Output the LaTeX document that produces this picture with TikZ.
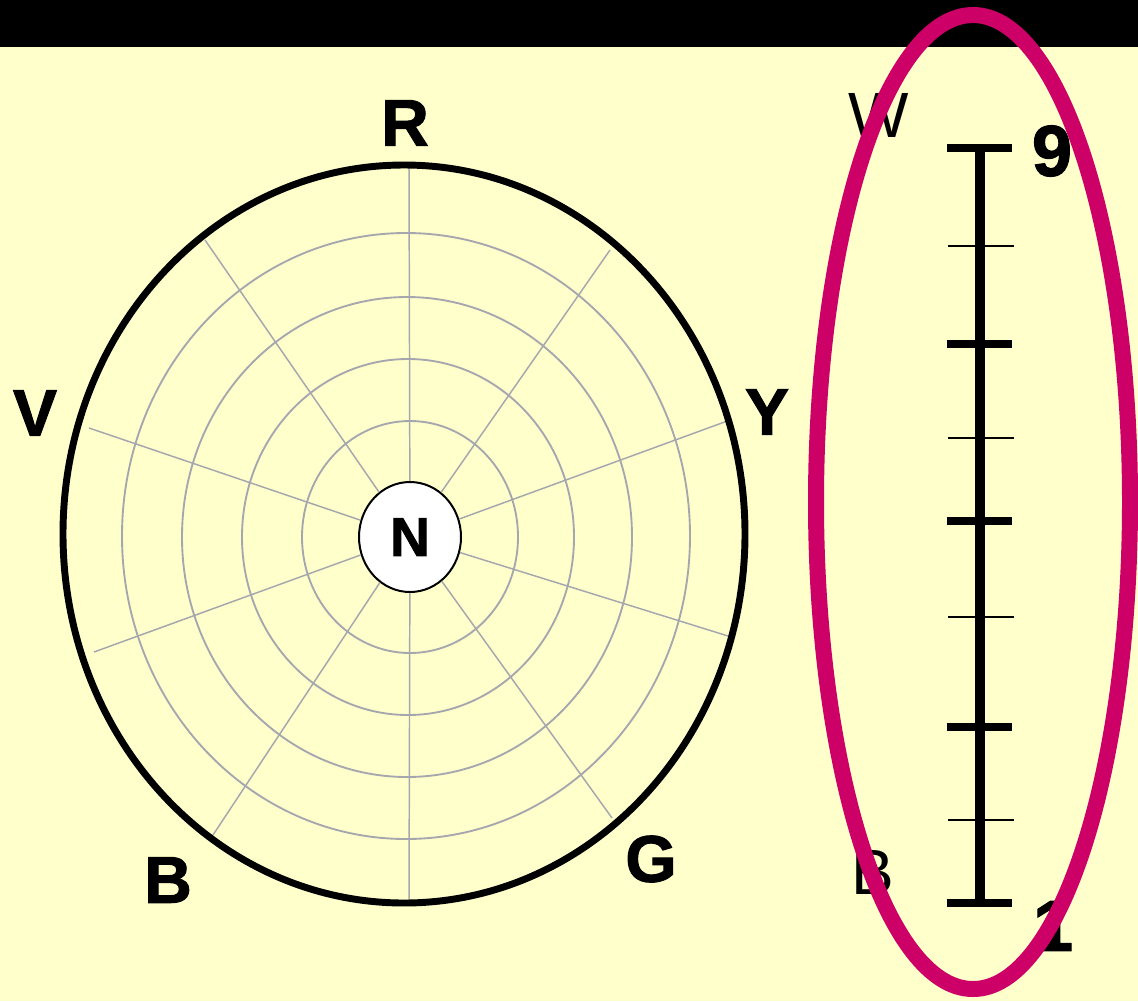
\documentclass[tikz,border=0pt]{standalone}
\usepackage{fontspec}
\setmainfont{Liberation Sans}
\newfontfamily\heavyfont{Liberation Sans}[BoldFeatures={FakeBold=1.6}]
\usetikzlibrary{shapes.geometric}
\definecolor{bgyellow}{HTML}{FFFFCC}
\definecolor{ringgrey}{HTML}{A6A6AE}
\definecolor{magentaring}{HTML}{CC0066}
\tikzset{
  ring/.style={draw=ringgrey, line width=1.4pt},
  spoke/.style={draw=ringgrey, line width=1.1pt},
  hue/.style={font=\heavyfont\fontsize{49.5}{50}\selectfont\bfseries, inner sep=0pt, text=black},
  endlabel/.style={font=\fontsize{48}{50}\selectfont, inner sep=0pt, text=black},
  numlabel/.style={font=\heavyfont\fontsize{54}{56}\selectfont\bfseries, inner sep=0pt, text=black},
  major/.style={line width=6.5pt, draw=black},
  minor/.style={line width=1.3pt, draw=black},
}
\begin{document}
\begin{tikzpicture}[x=0.75pt, y=-0.75pt]
\useasboundingbox (0,0) rectangle (1138,1001);
% background and top bar
\fill[bgyellow] (0,0) rectangle (1138,1001);
\fill[black] (0,0) rectangle (1138,47);
% concentric rings
\draw[ring] (410,537) ellipse [x radius=108, y radius=116];
\draw[ring] (408,537) ellipse [x radius=166, y radius=178];
\draw[ring] (407,537) ellipse [x radius=225, y radius=240];
\draw[ring] (406,536) ellipse [x radius=284, y radius=303];
% centre node
\node[ellipse, draw=black, line width=1.5pt, fill=white, minimum width=76.5pt, minimum height=82.5pt, inner sep=0pt,
      font=\heavyfont\fontsize{41}{42}\selectfont\bfseries] (N) at (410,537) {N};
% spoke ends
\coordinate (s1) at (409,166);
\coordinate (s2) at (610,250);
\coordinate (s3) at (730,420);
\coordinate (s4) at (728,636);
\coordinate (s5) at (612,818);
\coordinate (s6) at (409,902);
\coordinate (s7) at (213,835);
\coordinate (s8) at (94,652);
\coordinate (s9) at (89,428);
\coordinate (s10) at (205,240);
\foreach \s in {s1,s2,s3,s4,s5,s6,s7,s8,s9,s10} {\draw[spoke] (N) -- (\s);}
% outer boundary
\draw[black, line width=5.2pt] (404,534) ellipse [x radius=341, y radius=369];
% hue labels
\node[hue] (R) at (405,123) {R};
\node[hue] (Y) at (767,412) {Y};
\node[hue] (G) at (651,859) {G};
\node[hue] (Bh) at (168,880) {B};
\node[hue] (V) at (35,413) {V};
% value scale
\coordinate (top) at (980,148);
\coordinate (bot) at (980,903);
\draw[black, line width=7pt] (top) -- (bot);
\foreach \y in {148,344,521,727,903} {\draw[major] (947,\y) -- (1012,\y);}
\foreach \y in {246,438,617,820} {\draw[minor] (948,\y) -- (1014,\y);}
\node[numlabel] (nine) at (1052,151) {9};
\node[numlabel] (one) at (1053,926) {1};
\node[endlabel] (W) at (879,115) {W};
\node[endlabel] (Bv) at (873,872) {B};
% highlight ellipse
\draw[magentaring, line width=12pt] (973,502) ellipse [x radius=157, y radius=487];
\end{tikzpicture}
\end{document}
